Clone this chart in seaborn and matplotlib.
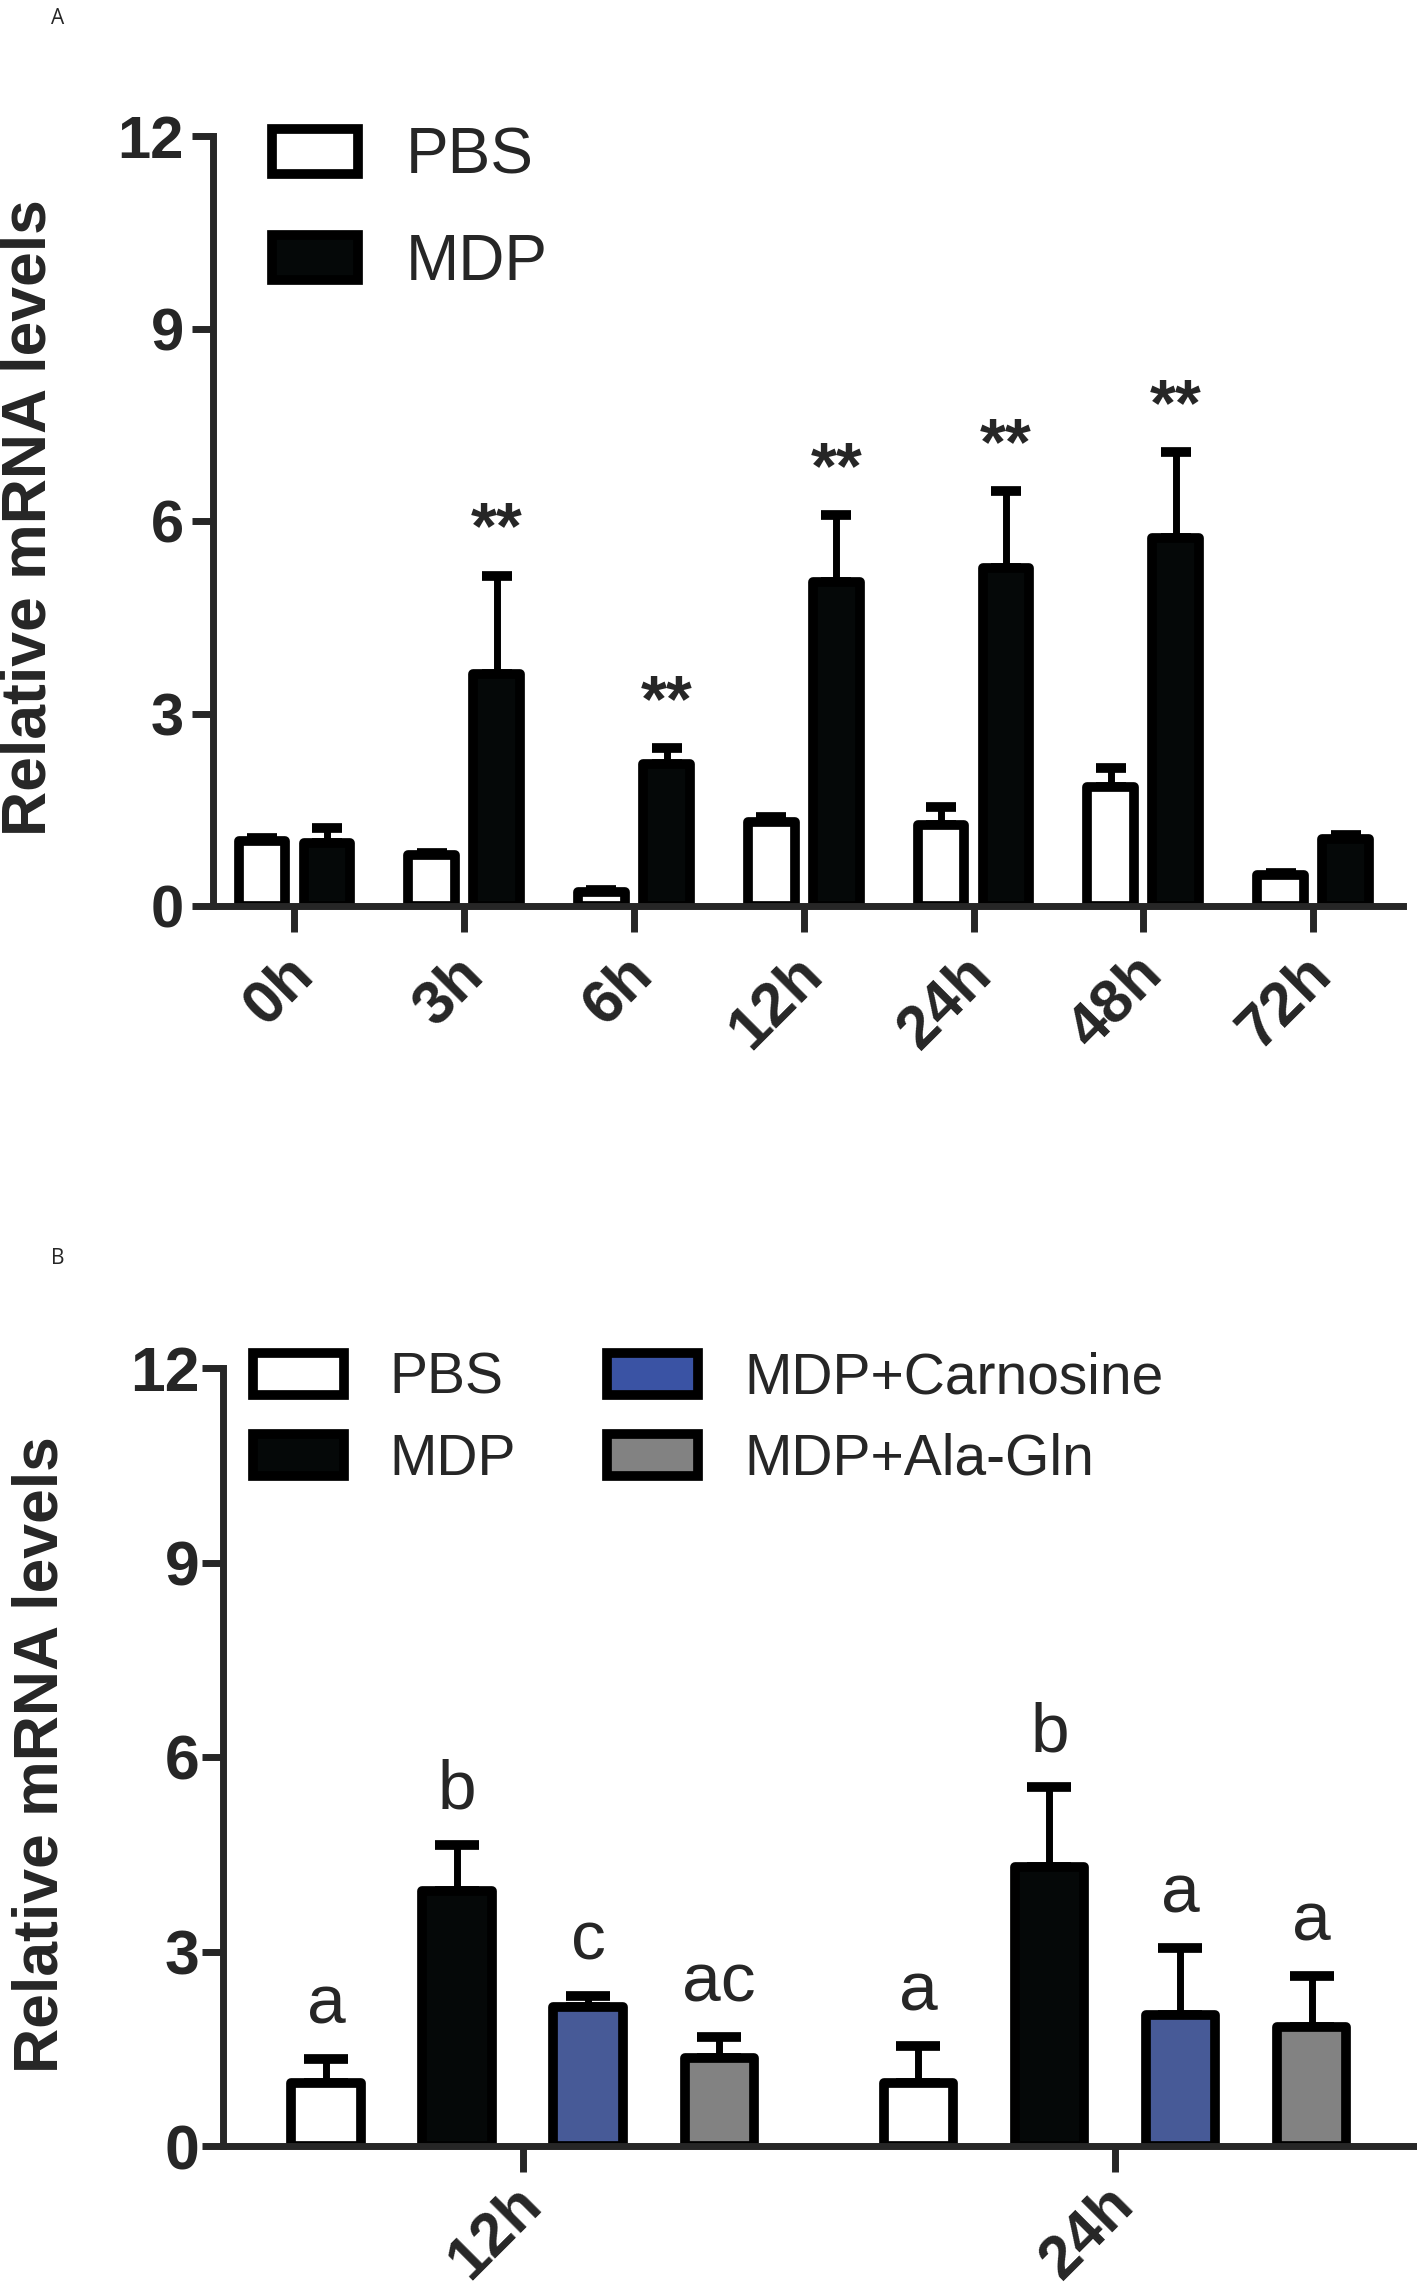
import numpy as np
import pandas as pd
import matplotlib
matplotlib.use("Agg")
import matplotlib.pyplot as plt
import seaborn as sns
from matplotlib.patches import Patch
from matplotlib.transforms import ScaledTranslation

# Panel A: time course, PBS vs MDP
times_a = ["0h", "3h", "6h", "12h", "24h", "48h", "72h"]
groups_a = ["PBS", "MDP"]
pbs_a = [1.02, 0.80, 0.22, 1.31, 1.27, 1.86, 0.49]
pbs_a_err = [0.04, 0.03, 0.03, 0.08, 0.27, 0.29, 0.02]
mdp_a = [0.98, 3.62, 2.21, 5.05, 5.27, 5.73, 1.05]
mdp_a_err = [0.24, 1.53, 0.25, 1.05, 1.20, 1.35, 0.05]
stars_a = ["", "**", "**", "**", "**", "**", ""]

# Panel B: 12h / 24h with treatments
times_b = ["12h", "24h"]
groups_b = ["PBS", "MDP", "MDP+Carnosine", "MDP+Ala-Gln"]
pbs_b = [0.97, 0.97]
pbs_b_err = [0.37, 0.57]
mdp_b = [3.93, 4.31]
mdp_b_err = [0.72, 1.23]
carn_b = [2.14, 2.02]
carn_b_err = [0.18, 1.03]
ala_b = [1.35, 1.84]
ala_b_err = [0.33, 0.78]
letters_b = {"12h": ["a", "b", "c", "ac"], "24h": ["a", "b", "a", "a"]}

colors = {"PBS": "white", "MDP": "#050808", "MDP+Carnosine": "#3a53a4", "MDP+Ala-Gln": "#828282"}

sns.set_style("ticks")
plt.rcParams["font.family"] = ["Liberation Sans", "DejaVu Sans"]

W, H = 1417, 2293
fig = plt.figure(figsize=(W / 100, H / 100), dpi=100)


def px_axes(left, top, right, bottom):
    return fig.add_axes([left / W, 1 - bottom / H, (right - left) / W, (bottom - top) / H])


def style_axis(ax, ylab_xy, ytick_size, ytick_pad, xtick_pad):
    sns.despine(ax=ax)
    for s in ["left", "bottom"]:
        ax.spines[s].set_linewidth(5)
    ax.set_ylim(0, 12)
    ax.set_yticks([0, 3, 6, 9, 12])
    ax.tick_params(axis="y", length=15, width=5, labelsize=ytick_size, pad=ytick_pad)
    ax.tick_params(axis="x", length=19, width=5, pad=xtick_pad)
    for lbl in ax.get_yticklabels():
        lbl.set_fontweight("bold")
    ax.set_xlabel("")
    ax.set_ylabel("")
    fig.text(ylab_xy[0] / W, 1 - ylab_xy[1] / H, "Relative mRNA levels", rotation=90,
             ha="center", va="center", fontsize=45, fontweight="bold")
    for p in ax.patches:
        p.set_joinstyle("round")


def rotate_xlabels(ax, labels):
    ax.set_xticks(range(len(labels)))
    ax.set_xticklabels(labels, rotation=45, ha="right", va="center",
                       rotation_mode="anchor", fontsize=44, fontweight="bold")
    shift = ScaledTranslation(10 / 100, 0, fig.dpi_scale_trans)
    for lbl in ax.get_xticklabels():
        lbl.set_transform(lbl.get_transform() + shift)


def add_errors(ax, errs, capsize):
    tops = []
    for cont, err in zip(ax.containers, errs):
        row = []
        for bar, e in zip(cont, err):
            x = bar.get_x() + bar.get_width() / 2
            y = bar.get_height()
            ax.errorbar(x, y, yerr=[[0], [e]], fmt="none", ecolor="black",
                        elinewidth=5, capsize=capsize, capthick=7, zorder=0.5)
            row.append((x, y + e))
        tops.append(row)
    return tops


# ---------------- Panel A ----------------
df_a = pd.DataFrame({
    "time": times_a * 2,
    "group": ["PBS"] * len(times_a) + ["MDP"] * len(times_a),
    "value": pbs_a + mdp_a,
})
ax1 = px_axes(213, 136, 1403, 906)
sns.barplot(data=df_a, x="time", y="value", hue="group", order=times_a, hue_order=groups_a,
            palette=colors, edgecolor="black", linewidth=7, width=0.766, gap=0.28,
            errorbar=None, legend=False, ax=ax1)
tops_a = add_errors(ax1, [pbs_a_err, mdp_a_err], capsize=11)
for (x, y), s in zip(tops_a[1], stars_a):
    if s:
        ax1.text(x, y + 0.42, s, ha="center", va="baseline", fontsize=48, fontweight="bold")
style_axis(ax1, (29, 518), 43, 6, 24)
rotate_xlabels(ax1, times_a)
ax1.set_xlim(-0.48, 6.53)
handles_a = [Patch(facecolor=colors[g], edgecolor="black", linewidth=7, joinstyle="round") for g in groups_a]
ax1.legend(handles_a, groups_a, loc="upper left", bbox_to_anchor=(272 / W, 1 - 127 / H),
           bbox_transform=fig.transFigure, frameon=False, fontsize=46, handlelength=1.35,
           handleheight=0.72, handletextpad=0.75, labelspacing=0.72, borderpad=0, borderaxespad=0)

# ---------------- Panel B ----------------
vals_b = [pbs_b, mdp_b, carn_b, ala_b]
df_b = pd.DataFrame({
    "time": times_b * len(groups_b),
    "group": [g for g in groups_b for _ in times_b],
    "value": [v for vals in vals_b for v in vals],
})
ax2 = px_axes(223, 1368, 1417, 2146)
sns.barplot(data=df_b, x="time", y="value", hue="group", order=times_b, hue_order=groups_b,
            palette=colors, edgecolor="black", linewidth=7, width=0.885, gap=0.47,
            errorbar=None, legend=False, ax=ax2)
tops_b = add_errors(ax2, [pbs_b_err, mdp_b_err, carn_b_err, ala_b_err], capsize=16)
for gi in range(len(groups_b)):
    for ti, t in enumerate(times_b):
        x, y = tops_b[gi][ti]
        ax2.text(x, y + 0.55, letters_b[t][gi], ha="center", va="baseline", fontsize=50)
style_axis(ax2, (41, 1755), 45, 2, 17)
rotate_xlabels(ax2, times_b)
ax2.set_xlim(-0.506, 1.51)
handles_b = [Patch(facecolor=colors[g], edgecolor="black", linewidth=7, joinstyle="round") for g in groups_b]
ax2.legend(handles_b, groups_b, ncol=2, loc="upper left", bbox_to_anchor=(253 / W, 1 - 1352 / H),
           bbox_transform=fig.transFigure, frameon=False, fontsize=41, handlelength=1.6,
           handleheight=0.75, handletextpad=0.8, labelspacing=0.47, columnspacing=1.6,
           borderpad=0, borderaxespad=0)

fig.text(51 / W, 1 - 18 / H, "A", fontsize=15, family=["Open Sans", "DejaVu Sans"], va="center")
fig.text(51 / W, 1 - 1259 / H, "B", fontsize=15, family=["Open Sans", "DejaVu Sans"], va="center")

fig.savefig("out.png", dpi=100)
